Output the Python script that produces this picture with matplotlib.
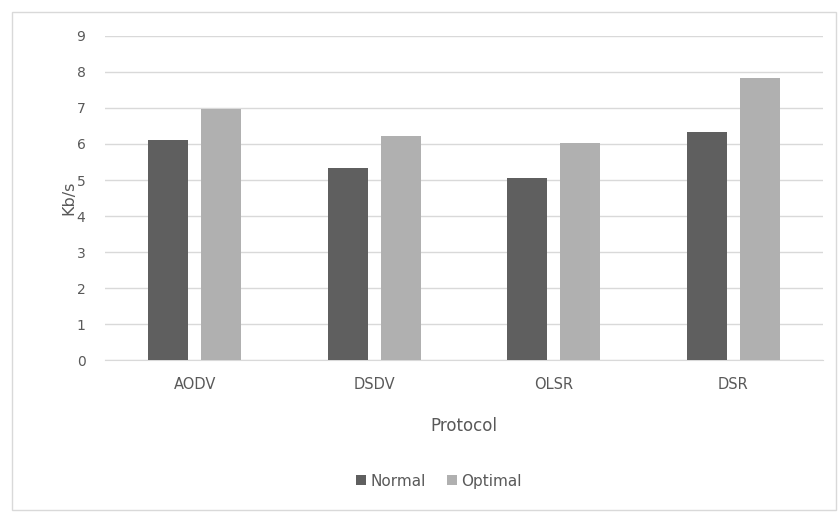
import numpy as np
import matplotlib.pyplot as plt
from matplotlib.patches import Rectangle

protocols = ["AODV", "DSDV", "OLSR", "DSR"]
normal = [6.12, 5.34, 5.06, 6.34]
optimal = [6.98, 6.23, 6.03, 7.84]

fig = plt.figure(figsize=(8.39, 5.13), dpi=100)
fig.patches.append(Rectangle((12 / 839, 3 / 513), 824 / 839, 498 / 513, transform=fig.transFigure,
                             fill=False, edgecolor="#d9d9d9", linewidth=1))
ax = fig.add_axes([0.125, 0.298, 0.856, 0.632])

x = np.arange(len(protocols))
w = 0.222
ax.bar(x - 0.147, normal, w, color="#5f5f5f", label="Normal", zorder=3)
ax.bar(x + 0.147, optimal, w, color="#b0b0b0", label="Optimal", zorder=3)

ax.set_xlim(-0.5, 3.5)
ax.set_ylim(0, 9)
ax.set_yticks(range(10))
ax.grid(axis="y", color="#d9d9d9", linewidth=1, zorder=0)
for s in ["top", "right", "left"]:
    ax.spines[s].set_visible(False)
ax.spines["bottom"].set_color("#d9d9d9")
ax.tick_params(length=0, colors="#595959", labelsize=10)
ax.tick_params(axis="x", pad=12, labelsize=10.5)
ax.tick_params(axis="y", pad=14)
ax.set_xticks(x)
ax.set_xticklabels(protocols)
ax.set_xlabel("Protocol", color="#595959", fontsize=12, labelpad=18)
ax.set_ylabel("Kb/s", color="#595959", fontsize=11.5, labelpad=0)

fig.legend(loc="center", bbox_to_anchor=(0.523, 0.062), ncol=2, frameon=False,
           fontsize=11, handlelength=0.65, handleheight=0.65, handletextpad=0.25,
           columnspacing=1.4, labelcolor="#595959")

fig.savefig("out.png", dpi=100)
